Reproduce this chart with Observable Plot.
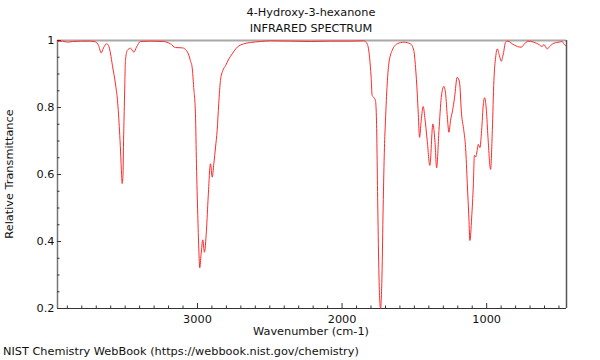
<!DOCTYPE html>
<html>
<head>
<meta charset="utf-8">
<script src="https://cdn.jsdelivr.net/npm/d3@7"></script>
<script src="https://cdn.jsdelivr.net/npm/@observablehq/plot@0.6"></script>
<style>
  html, body { margin: 0; padding: 0; background: #fff; }
  #wrap { position: relative; width: 600px; height: 360px; font-family: "DejaVu Sans", sans-serif; font-size: 11.3px; color: #111; }
  .lbl { position: absolute; white-space: nowrap; line-height: 1; }
</style>
</head>
<body>
<div id="wrap"></div>
<script>
const title = "4-Hydroxy-3-hexanone";
const subtitle = "INFRARED SPECTRUM";
const xLabel = "Wavenumber (cm-1)";
const yLabel = "Relative Transmittance";
const caption = "NIST Chemistry WebBook (https://webbook.nist.gov/chemistry)";

const wavenumber = [3968,3933,3899,3864,3809,3740,3705,3684,3666,3650,3629,3615,3601,3588,3567,3553,3539,3532,3525,3521,3515,3512,3505,3498,3486,3463,3440,3422,3394,3325,3235,3187,3152,3104,3076,3063,3049,3037,3026,3014,3007,2998,2991,2984,2975,2963,2952,2938,2926,2910,2898,2887,2875,2864,2853,2841,2825,2806,2783,2760,2725,2680,2633,2564,2495,2357,2218,2080,1942,1850,1826,1810,1799,1792,1781,1769,1762,1753,1745,1734,1724,1716,1707,1700,1688,1677,1654,1619,1573,1527,1504,1492,1480,1473,1464,1453,1439,1428,1411,1393,1372,1358,1346,1330,1314,1296,1284,1272,1261,1250,1236,1222,1204,1188,1174,1158,1146,1134,1123,1116,1104,1092,1085,1076,1069,1058,1047,1035,1023,1014,1002,991,973,961,950,938,926,912,899,885,869,853,823,788,761,738,715,674,639,616,605,581,565,535,501,478,467,455];
const transmittance = [0.997,0.998,0.995,0.997,0.998,0.998,0.996,0.985,0.963,0.978,0.99,0.985,0.96,0.925,0.87,0.82,0.73,0.67,0.60,0.573,0.60,0.68,0.82,0.94,0.97,0.977,0.965,0.98,0.997,0.998,0.997,0.99,0.979,0.978,0.97,0.96,0.94,0.92,0.86,0.78,0.63,0.48,0.38,0.3215,0.362,0.405,0.368,0.433,0.532,0.632,0.592,0.632,0.682,0.731,0.811,0.881,0.91,0.925,0.945,0.96,0.98,0.99,0.994,0.997,0.999,0.998,0.997,0.998,0.998,0.999,0.99,0.95,0.89,0.836,0.83,0.82,0.76,0.5,0.3,0.2,0.3,0.5,0.68,0.76,0.87,0.93,0.97,0.99,0.995,0.99,0.97,0.92,0.841,0.78,0.711,0.76,0.803,0.771,0.70,0.627,0.751,0.70,0.62,0.731,0.83,0.863,0.841,0.771,0.726,0.761,0.791,0.83,0.89,0.876,0.781,0.731,0.681,0.572,0.47,0.403,0.47,0.572,0.657,0.652,0.664,0.69,0.68,0.731,0.811,0.829,0.791,0.711,0.615,0.731,0.881,0.95,0.975,0.955,0.938,0.96,0.995,0.998,0.99,0.982,0.98,0.99,0.998,0.995,0.988,0.982,0.988,0.975,0.982,0.992,0.995,0.997,0.99,0.985];

const xDomain = [3968, 448];
const yDomain = [0.2, 1];
const xMajor = [3000, 2000, 1000];
const xMinor = [3900,3800,3700,3600,3500,3400,3300,3200,3100,2900,2800,2700,2600,2500,2400,2300,2200,2100,1900,1800,1700,1600,1500,1400,1300,1200,1100,900,800,700,600,500];
const yMajor = [0.2, 0.4, 0.6, 0.8, 1];
const yMinor = [0.25,0.3,0.35,0.45,0.5,0.55,0.65,0.7,0.75,0.85,0.9,0.95];

const spectrum = wavenumber.map((w, i) => ({w, t: transmittance[i]}));

const chart = Plot.plot({
  width: 600,
  height: 360,
  marginLeft: 57,
  marginRight: 34,
  marginTop: 40,
  marginBottom: 52,
  style: {fontFamily: "DejaVu Sans, sans-serif", fontSize: "11.3px", color: "#111", background: "#fff"},
  x: {domain: xDomain, label: null},
  y: {domain: yDomain, label: null},
  marks: [
    Plot.ruleY([1], {stroke: "#a8a8a8", strokeWidth: 2}),
    Plot.ruleX([xDomain[0]], {stroke: "#777", strokeWidth: 1.5}),
    Plot.ruleX([xDomain[1]], {stroke: "#555", strokeWidth: 1.5}),
    Plot.ruleY([0.2], {stroke: "#333", strokeWidth: 1.2}),
    Plot.axisX(xMajor, {anchor: "bottom", tickSize: 0, tickPadding: 6, label: null, tickFormat: d => String(d), fill: "#111"}),
    Plot.axisX(xMajor, {anchor: "bottom", tickSize: -5, tickFormat: () => "", label: null, stroke: "#333"}),
    Plot.axisX(xMinor, {anchor: "bottom", tickSize: -2.5, tickFormat: () => "", label: null, stroke: "#333"}),
    Plot.axisY(yMajor, {anchor: "left", tickSize: 0, tickPadding: 3, label: null, tickFormat: d => String(d), fill: "#111"}),
    Plot.axisY(yMajor, {anchor: "left", tickSize: -4, tickFormat: () => "", label: null, stroke: "#333"}),
    Plot.axisY(yMinor, {anchor: "left", tickSize: -2.5, tickFormat: () => "", label: null, stroke: "#333"}),
    Plot.line(spectrum, {x: "w", y: "t", stroke: "#ff2a2a", strokeWidth: 1, curve: "monotone-x"})
  ]
});

const wrap = document.getElementById("wrap");
wrap.appendChild(chart);
chart.style.position = "absolute";
chart.style.left = "0px";
chart.style.top = "0px";

function addLabel(text, css) {
  const d = document.createElement("div");
  d.className = "lbl";
  d.textContent = text;
  Object.assign(d.style, css);
  wrap.appendChild(d);
  return d;
}
addLabel(title, {left: "311px", top: "7px", transform: "translateX(-50%)"});
addLabel(subtitle, {left: "311px", top: "23px", transform: "translateX(-50%)"});
addLabel(xLabel, {left: "311px", top: "326px", transform: "translateX(-50%)"});
addLabel(caption, {left: "3px", top: "346px"});
addLabel(yLabel, {left: "10px", top: "174px", transform: "translate(-50%, -50%) rotate(-90deg)"});
</script>
</body>
</html>
